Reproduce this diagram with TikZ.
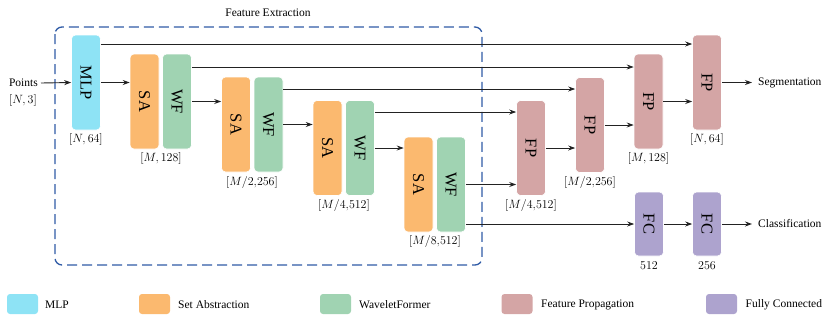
\documentclass[tikz,border=0pt]{standalone}
\usepackage{fontspec}
\setmainfont{Liberation Serif}
\usetikzlibrary{arrows.meta}
\definecolor{cmlp}{HTML}{8EE3F5}
\definecolor{csa}{HTML}{FBB96F}
\definecolor{cwf}{HTML}{A0D3B2}
\definecolor{cfp}{HTML}{D4A5A5}
\definecolor{cfc}{HTML}{ADA3CE}
\definecolor{cdash}{HTML}{2F5BA6}
\definecolor{cline}{HTML}{222222}
\tikzset{
  blk/.style={rounded corners=4pt, inner sep=0pt, minimum width=29pt, minimum height=95pt, font=\fontsize{16.5}{16}\selectfont, draw=white, line width=0.6pt},
  shortblk/.style={blk, minimum height=64pt},
  lab/.style={font=\fontsize{11.5}{12}\selectfont, inner sep=0pt},
  dim/.style={font=\fontsize{12}{12}\selectfont, inner sep=0pt},
  arr/.style={-{Stealth[length=7pt,width=5pt]}, line width=0.9pt, draw=cline},
  legbox/.style={rounded corners=3pt, minimum width=31pt, minimum height=20pt, inner sep=0pt},
}
\begin{document}
\begin{tikzpicture}[x=1pt,y=-1pt]
\useasboundingbox (0,0) rectangle (831,322);
% dashed group
\draw[cdash, line width=1.3pt, dash pattern=on 10pt off 5pt, rounded corners=7pt] (55,27) rectangle (482,265);
\node[lab] (fetitle) at (268,13) {Feature Extraction};
% encoder
\node[blk, fill=cmlp] (mlp) at (86,82.5) {\rotatebox{-90}{MLP}};
\node[blk, fill=csa] (sa1) at (144.5,101.5) {\rotatebox{-90}{SA}};
\node[blk, fill=cwf] (wf1) at (177,101.5) {\rotatebox{-90}{WF}};
\node[blk, fill=csa] (sa2) at (236,124.5) {\rotatebox{-90}{SA}};
\node[blk, fill=cwf] (wf2) at (268.5,124.5) {\rotatebox{-90}{WF}};
\node[blk, fill=csa] (sa3) at (327.5,148) {\rotatebox{-90}{SA}};
\node[blk, fill=cwf] (wf3) at (360,148) {\rotatebox{-90}{WF}};
\node[blk, fill=csa] (sa4) at (418.5,184.5) {\rotatebox{-90}{SA}};
\node[blk, fill=cwf] (wf4) at (451,184.5) {\rotatebox{-90}{WF}};
% decoder
\node[blk, fill=cfp] (fp1) at (531,148) {\rotatebox{-90}{FP}};
\node[blk, fill=cfp] (fp2) at (590,125) {\rotatebox{-90}{FP}};
\node[blk, fill=cfp] (fp3) at (648.5,101.5) {\rotatebox{-90}{FP}};
\node[blk, fill=cfp] (fp4) at (707,82.5) {\rotatebox{-90}{FP}};
\node[shortblk, fill=cfc] (fc1) at (649,224) {\rotatebox{-90}{FC}};
\node[shortblk, fill=cfc] (fc2) at (707,224) {\rotatebox{-90}{FC}};
% dims
\node[dim] (dmlp) at (86,139) {$[N,64]$};
\node[dim] (d1) at (161,158) {$[M,128]$};
\node[dim] (d2) at (252,182) {$[M/2{,}256]$};
\node[dim] (d3) at (344,205) {$[M/4{,}512]$};
\node[dim] (d4) at (435,241) {$[M/8{,}512]$};
\node[dim] (dfp1) at (531,205) {$[M/4{,}512]$};
\node[dim] (dfp2) at (590,182) {$[M/2{,}256]$};
\node[dim] (dfp3) at (648.5,158) {$[M,128]$};
\node[dim] (dfp4) at (707,139) {$[N,64]$};
\node[dim] (dfc1) at (649,266) {$512$};
\node[dim] (dfc2) at (707,266) {$256$};
% inputs / outputs
\node[lab, anchor=east] (pts) at (38,83) {Points};
\node[dim] (pdim) at (23,100) {$[N,3]$};
\node[lab, anchor=west] (seg) at (758,83) {Segmentation};
\node[lab, anchor=west] (cls) at (758,224) {Classification};
% main arrows
\draw[arr] ([xshift=3pt]pts.east) -- (mlp.west);
\draw[arr] (mlp.east) -- (mlp.east -| sa1.west);
\draw[arr] (wf1.east) -- (wf1.east -| sa2.west);
\draw[arr] (wf2.east) -- (wf2.east -| sa3.west);
\draw[arr] (wf3.east) -- (wf3.east -| sa4.west);
\draw[arr] (wf4.east) -- (wf4.east -| fp1.west);
\draw[arr] (fp1.east) -- (fp1.east -| fp2.west);
\draw[arr] (fp2.east) -- (fp2.east -| fp3.west);
\draw[arr] (fp3.east) -- (fp3.east -| fp4.west);
\draw[arr] (fp4.east) -- ([xshift=-6pt]fp4.east -| seg.west);
\draw[arr] (wf4.east |- fc1.west) -- (fc1.west);
\draw[arr] (fc1.east) -- (fc2.west);
\draw[arr] (fc2.east) -- ([xshift=-6pt]fc2.east -| cls.west);
% skip connections
\draw[arr] ([yshift=38.5pt]mlp.east) -- ([yshift=38.5pt]mlp.east -| fp4.west);
\draw[arr] ([yshift=34.5pt]wf1.east) -- ([yshift=34.5pt]wf1.east -| fp3.west);
\draw[arr] ([yshift=35.5pt]wf2.east) -- ([yshift=35.5pt]wf2.east -| fp2.west);
\draw[arr] ([yshift=36pt]wf3.east) -- ([yshift=36pt]wf3.east -| fp1.west);
% legend
\node[legbox, fill=cmlp] (lg1) at (22.5,304) {};
\node[lab, anchor=west] (lt1) at (45,305) {MLP};
\node[legbox, fill=csa] (lg2) at (154.5,304) {};
\node[lab, anchor=west] (lt2) at (178,305) {Set Abstraction};
\node[legbox, fill=cwf] (lg3) at (335.5,304) {};
\node[lab, anchor=west] (lt3) at (359,305) {WaveletFormer};
\node[legbox, fill=cfp] (lg4) at (517,304) {};
\node[lab, anchor=west] (lt4) at (541,305) {Feature Propagation};
\node[legbox, fill=cfc] (lg5) at (721.5,304) {};
\node[lab, anchor=west] (lt5) at (745.5,305) {Fully Connected};
\end{tikzpicture}
\end{document}
